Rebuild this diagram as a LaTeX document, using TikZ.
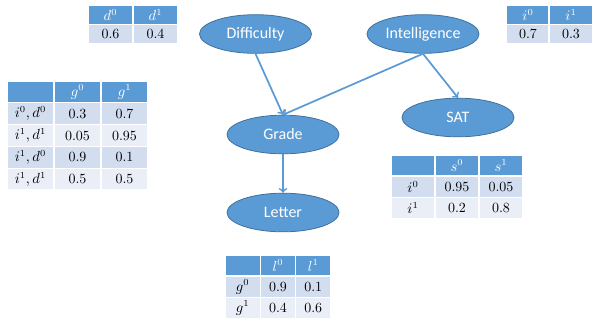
\documentclass[tikz,border=0pt]{standalone}
\usepackage{amsmath}
\usepackage{fontspec}
\newfontfamily\calib{Carlito}
\usepackage{tikz}
\usetikzlibrary{arrows, positioning, shapes.geometric, shapes}

\definecolor{nodeblue}{HTML}{5B9BD5}
\definecolor{rimblue}{HTML}{41719C}
\definecolor{rowdark}{HTML}{D2DEEF}
\definecolor{rowlight}{HTML}{EAEFF7}

\tikzset{
  var/.style={ellipse, fill=nodeblue, draw=rimblue, line width=0.6pt, text=white,
    minimum width=84pt, minimum height=29pt, inner sep=0pt,
    font=\calib\fontsize{12}{14}\selectfont},
  arr/.style={->, draw=nodeblue, line width=1.3pt},
  cell/.style={rectangle, draw=white, line width=0.8pt, inner sep=0pt,
    font=\fontsize{10.5}{12}\selectfont},
  hcell/.style={cell, fill=nodeblue, text=white},
  dcell/.style={cell, fill=rowdark},
  lcell/.style={cell, fill=rowlight},
  smalltab/.style={minimum width=33pt, minimum height=14.6pt},
  gtab/.style={minimum width=35.25pt, minimum height=16.35pt},
  stab/.style={minimum width=33pt, minimum height=15.75pt},
  ltab/.style={minimum width=26.5pt, minimum height=15.75pt}
}

\begin{document}
\begin{tikzpicture}[x=0.75pt, y=-0.75pt]
\useasboundingbox (0,0) rectangle (594,322);

% nodes
\node[var] (D) at (255.5, 34) {Difficulty};
\node[var] (I) at (423, 34) {Intelligence};
\node[var] (G) at (283, 134.5) {Grade};
\node[var] (S) at (458, 117.5) {SAT};
\node[var] (L) at (283, 212.5) {Letter};

% arrows
\draw[arr] (D.south) -- (G.north);
\draw[arr] (I.south) -- (G.north);
\draw[arr] (I.south) -- (S.north);
\draw[arr] (G.south) -- (L.north);

% table for D
\node[hcell, smalltab] (Dh0) at (110.5, 14.75) {$d^0$};
\node[hcell, smalltab] (Dh1) at (155.5, 14.75) {$d^1$};
\node[dcell, smalltab] (Dv0) at (110.5, 34.25) {0.6};
\node[dcell, smalltab] (Dv1) at (155.5, 34.25) {0.4};

% table for I
\node[hcell, smalltab] (Ih0) at (528, 14.75) {$i^0$};
\node[hcell, smalltab] (Ih1) at (571, 14.75) {$i^1$};
\node[dcell, smalltab] (Iv0) at (528, 34.25) {0.7};
\node[dcell, smalltab] (Iv1) at (571, 34.25) {0.3};

% table for G
\node[hcell, gtab] (Gh) at (30.5, 91.9) {};
\node[hcell, gtab] (Gh0) at (77.5, 91.9) {$g^0$};
\node[hcell, gtab] (Gh1) at (124.5, 91.9) {$g^1$};
\node[dcell, gtab] (Gr1) at (30.5, 113.7) {$i^0,d^0$};
\node[dcell, gtab] (G10) at (77.5, 113.7) {0.3};
\node[dcell, gtab] (G11) at (124.5, 113.7) {0.7};
\node[lcell, gtab] (Gr2) at (30.5, 135.5) {$i^1,d^1$};
\node[lcell, gtab] (G20) at (77.5, 135.5) {0.05};
\node[lcell, gtab] (G21) at (124.5, 135.5) {0.95};
\node[dcell, gtab] (Gr3) at (30.5, 157.3) {$i^1,d^0$};
\node[dcell, gtab] (G30) at (77.5, 157.3) {0.9};
\node[dcell, gtab] (G31) at (124.5, 157.3) {0.1};
\node[lcell, gtab] (Gr4) at (30.5, 179.1) {$i^1,d^1$};
\node[lcell, gtab] (G40) at (77.5, 179.1) {0.5};
\node[lcell, gtab] (G41) at (124.5, 179.1) {0.5};

% table for S
\node[hcell, stab] (Sh) at (413, 165.5) {};
\node[hcell, stab] (Sh0) at (457, 165.5) {$s^0$};
\node[hcell, stab] (Sh1) at (501, 165.5) {$s^1$};
\node[dcell, stab] (Sr1) at (413, 187) {$i^0$};
\node[dcell, stab] (S10) at (457, 187) {0.95};
\node[dcell, stab] (S11) at (501, 187) {0.05};
\node[lcell, stab] (Sr2) at (413, 208) {$i^1$};
\node[lcell, stab] (S20) at (457, 208) {0.2};
\node[lcell, stab] (S21) at (501, 208) {0.8};

% table for L
\node[hcell, ltab] (Lh) at (242.7, 265.5) {};
\node[hcell, ltab] (Lh0) at (278, 265.5) {$l^0$};
\node[hcell, ltab] (Lh1) at (313.3, 265.5) {$l^1$};
\node[dcell, ltab] (Lr1) at (242.7, 287) {$g^0$};
\node[dcell, ltab] (L10) at (278, 287) {0.9};
\node[dcell, ltab] (L11) at (313.3, 287) {0.1};
\node[lcell, ltab] (Lr2) at (242.7, 308) {$g^1$};
\node[lcell, ltab] (L20) at (278, 308) {0.4};
\node[lcell, ltab] (L21) at (313.3, 308) {0.6};

\end{tikzpicture}
\end{document}
